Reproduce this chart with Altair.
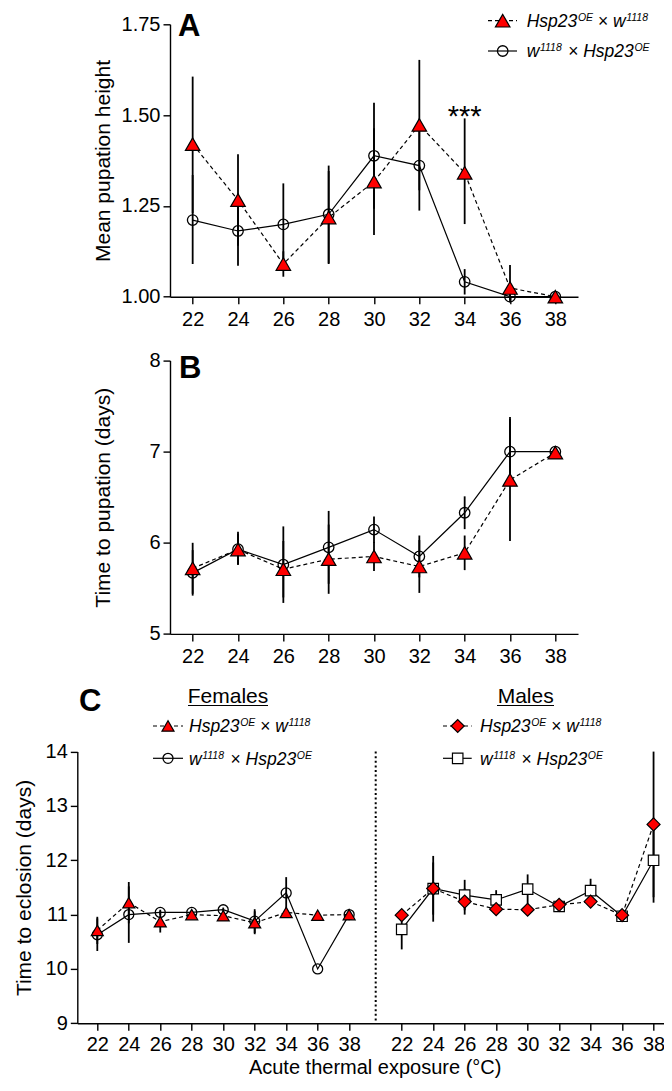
import altair as alt
import pandas as pd

temps = [22, 24, 26, 28, 30, 32, 34, 36, 38]

# ---- Panel A: mean pupation height
a_oe_mean = [1.42, 1.266, 1.09, 1.218, 1.317, 1.473, 1.341, 1.024, 1.0]
a_oe_lo = [1.23, 1.14, 1.055, 1.09, 1.17, 1.293, 1.20, 0.985, 1.0]
a_oe_hi = [1.606, 1.392, 1.125, 1.346, 1.464, 1.652, 1.491, 1.087, 1.0]
a_w_mean = [1.211, 1.181, 1.199, 1.227, 1.388, 1.361, 1.041, 1.0, 1.0]
a_w_lo = [1.09, 1.085, 1.086, 1.092, 1.242, 1.237, 1.006, 0.99, 1.0]
a_w_hi = [1.335, 1.277, 1.312, 1.361, 1.534, 1.485, 1.076, 1.01, 1.0]

# ---- Panel B: time to pupation (days)
b_oe_mean = [5.72, 5.926, 5.71, 5.82, 5.85, 5.74, 5.89, 6.69, 6.99]
b_oe_lo = [5.44, 5.76, 5.40, 5.44, 5.69, 5.45, 5.70, 6.02, 6.99]
b_oe_hi = [6.00, 6.10, 6.02, 6.20, 6.01, 6.03, 6.08, 7.36, 6.99]
b_w_mean = [5.67, 5.93, 5.76, 5.95, 6.145, 5.85, 6.33, 7.0, 7.0]
b_w_lo = [5.42, 5.76, 5.34, 5.55, 6.00, 5.62, 6.15, 6.62, 7.0]
b_w_hi = [5.92, 6.12, 6.18, 6.35, 6.29, 6.08, 6.51, 7.38, 7.0]

# ---- Panel C: time to eclosion (days)
cf_oe_mean = [10.71, 11.22, 10.87, 11.0, 10.98, 10.85, 11.04, 10.99, 11.0]
cf_oe_lo = [10.46, 10.84, 10.67, 10.97, 10.95, 10.64, 11.0, 10.99, 11.0]
cf_oe_hi = [10.96, 11.60, 11.07, 11.03, 11.01, 11.06, 11.08, 10.99, 11.0]
cf_w_mean = [10.63, 11.0, 11.04, 11.04, 11.09, 10.88, 11.40, 10.0, 11.0]
cf_w_lo = [10.33, 10.48, 10.99, 11.0, 11.05, 10.66, 11.11, 10.0, 11.0]
cf_w_hi = [10.93, 11.52, 11.09, 11.08, 11.13, 11.10, 11.69, 10.0, 11.0]
cm_oe_mean = [10.99, 11.48, 11.24, 11.10, 11.09, 11.18, 11.24, 10.99, 12.66]
cm_oe_lo = [10.99, 11.0, 11.0, 11.08, 11.07, 11.12, 11.15, 10.97, 11.32]
cm_oe_hi = [10.99, 11.96, 11.48, 11.12, 11.11, 11.24, 11.33, 11.01, 14.0]
cm_w_mean = [10.73, 11.48, 11.36, 11.27, 11.47, 11.15, 11.44, 10.97, 12.0]
cm_w_lo = [10.36, 10.87, 11.08, 11.09, 11.20, 11.10, 11.22, 10.95, 11.22]
cm_w_hi = [11.10, 12.08, 11.64, 11.45, 11.74, 11.20, 11.66, 10.99, 12.78]

FONT = "Liberation Sans"
RED = "#ff0000"
MALE_SHIFT = 19.34  # horizontal offset of the male block on the shared axis
DUMMY = pd.DataFrame({"k": [0]})

ARIAL_W = {'H': 722, 's': 500, 'p': 556, '2': 556, '3': 556, 'O': 778, 'E': 667,
           '×': 584, 'w': 722, '1': 556, '8': 556}
SPACE_W = 278
MAIN_FS = 17.5
SUP_FS = 10.5
LETTER_FS = 31


def tw(s, fs):
    return sum(ARIAL_W[c] for c in s) / 1000.0 * fs


def make_df(mean, lo, hi, shift=0.0):
    return pd.DataFrame({"temp": temps, "x": [t + shift for t in temps],
                         "mean": mean, "lo": lo, "hi": hi})


def marker_kw(shape, size, fill):
    if fill is None:
        return dict(shape=shape, size=size, filled=False, color="black",
                    strokeWidth=1.3, opacity=1)
    return dict(shape=shape, size=size, filled=True, fill=fill, stroke="black",
                strokeWidth=1.2, opacity=1)


def series(df, X, Yf, dash, shape, size, fill):
    base = alt.Chart(df)
    err = base.mark_rule(color="black", strokeWidth=1.8).encode(
        x=X, y=Yf("lo"), y2="hi:Q")
    lkw = dict(color="black", strokeWidth=1.2)
    if dash:
        lkw["strokeDash"] = dash
    line = base.mark_line(**lkw).encode(x=X, y=Yf("mean"))
    pts = base.mark_point(**marker_kw(shape, size, fill)).encode(x=X, y=Yf("mean"))
    return err, line, pts


def text_at(txt, x, y, fs, italic=False, bold=False, align="left"):
    kw = dict(text=txt, font=FONT, fontSize=fs, align=align, baseline="alphabetic",
              color="black")
    if italic:
        kw["fontStyle"] = "italic"
    if bold:
        kw["fontWeight"] = "bold"
    return alt.Chart(DUMMY).mark_text(**kw).encode(x=alt.value(x), y=alt.value(y))


def genotype_label(first_oe, x0, yc):
    base_y = yc + 6.3
    sup_y = base_y - 6.0
    if first_oe:
        segs = [("Hsp23", "m", True), ("OE", "s", True), ("×", "x", False),
                ("w", "m", True), ("1118", "s", True)]
    else:
        segs = [("w", "m", True), ("1118", "s", True), ("×", "x", False),
                ("Hsp23", "m", True), ("OE", "s", True)]
    layers = []
    x = x0
    for txt, kind, ital in segs:
        if kind == "x":
            x += SPACE_W / 1000.0 * MAIN_FS
            layers.append(text_at(txt, x, base_y, MAIN_FS))
            x += tw(txt, MAIN_FS) + SPACE_W / 1000.0 * MAIN_FS
        elif kind == "m":
            layers.append(text_at(txt, x, base_y, MAIN_FS, italic=ital))
            x += tw(txt, MAIN_FS) + 0.6
        else:
            layers.append(text_at(txt, x, sup_y, SUP_FS, italic=ital))
            x += tw(txt, SUP_FS)
    return layers


def legend_row(x0, x1, xm, xt, yc, dash, shape, size, fill, first_oe):
    rkw = dict(color="black", strokeWidth=1.2)
    if dash:
        rkw["strokeDash"] = dash
    rule = alt.Chart(DUMMY).mark_rule(**rkw).encode(
        x=alt.value(x0), x2=alt.value(x1), y=alt.value(yc))
    pt = alt.Chart(DUMMY).mark_point(**marker_kw(shape, size, fill)).encode(
        x=alt.value(xm), y=alt.value(yc))
    return [rule, pt] + genotype_label(first_oe, xt, yc)


DASH = [4, 3]
TRI_AB, CIRC_AB = 210, 110

# ---------------- Panel A ----------------
xAB = alt.Scale(domain=[21, 39], range=[92.7, 500.7], nice=False, zero=False)
xaxAB = alt.Axis(values=temps, format="d", title=None, tickSize=7, labelPadding=6,
                 labelFlush=False, labelOverlap=False)
XAB = alt.X("x:Q", scale=xAB, axis=xaxAB)

yA = alt.Scale(domain=[1.0, 1.75], nice=False, zero=False)
yaxA = alt.Axis(values=[1.0, 1.25, 1.5, 1.75], format=".2f", offset=-92.7,
                title="Mean pupation height", titleX=-57, tickSize=7, labelPadding=3)
YfA = lambda f: alt.Y(f"{f}:Q", scale=yA, axis=yaxA)

aW = series(make_df(a_w_mean, a_w_lo, a_w_hi), XAB, YfA, None, "circle", CIRC_AB, None)
aO = series(make_df(a_oe_mean, a_oe_lo, a_oe_hi), XAB, YfA, DASH, "triangle-up", TRI_AB, RED)

stars = alt.Chart(DUMMY).mark_text(text="***", font=FONT, fontSize=29, align="center",
                                   baseline="alphabetic", color="black").encode(
    x=alt.X("t:Q", scale=xAB, axis=xaxAB), y=alt.Y("v:Q", scale=yA, axis=yaxA)
).transform_calculate(t="34", v="1.47")

layersA = [aW[0], aO[0], aW[1], aO[1], aW[2], aO[2], stars,
           text_at("A", 100.7, 11.7, LETTER_FS, bold=True)]
layersA += legend_row(410.7, 439.7, 425.4, 449.4, -3.6, DASH, "triangle-up", TRI_AB, RED, True)
layersA += legend_row(410.7, 439.7, 425.4, 449.4, 26.7, None, "circle", CIRC_AB, None, False)
chartA = alt.layer(*layersA).properties(width=500.7, height=272.4)

# ---------------- Panel B ----------------
yB = alt.Scale(domain=[5, 8], nice=False, zero=False)
yaxB = alt.Axis(values=[5, 6, 7, 8], format="d", offset=-92.7,
                title="Time to pupation (days)", titleX=-57, tickSize=7, labelPadding=3)
YfB = lambda f: alt.Y(f"{f}:Q", scale=yB, axis=yaxB)
bW = series(make_df(b_w_mean, b_w_lo, b_w_hi), XAB, YfB, None, "circle", CIRC_AB, None)
bO = series(make_df(b_oe_mean, b_oe_lo, b_oe_hi), XAB, YfB, DASH, "triangle-up", TRI_AB, RED)
layersB = [bW[0], bO[0], bW[1], bO[1], bW[2], bO[2],
           text_at("B", 101.7, 17.0, LETTER_FS, bold=True)]
chartB = alt.layer(*layersB).properties(width=500.7, height=273.3)

# ---------------- Panel C ----------------
CS = -7.0          # slight vertical tightening so the whole figure fits the page
C_W = 594.7
C_H = 332.4 + CS
PX_PER_DEG = 15.74
c_lo = 20.729
c_hi = c_lo + C_W / PX_PER_DEG
c_ticks = temps + [t + MALE_SHIFT for t in temps]
xC = alt.Scale(domain=[c_lo, c_hi], nice=False, zero=False)
xaxC = alt.Axis(values=c_ticks,
                labelExpr=f"format(datum.value > 40 ? datum.value - {MALE_SHIFT} : datum.value, '.0f')",
                title="Acute thermal exposure (°C)", titleFontSize=20, tickSize=7,
                labelPadding=4.5, titlePadding=2.8, labelFlush=False, labelOverlap=False)
XC = alt.X("x:Q", scale=xC, axis=xaxC)
yC = alt.Scale(domain=[9, 14], range=[C_H, 60.7 + CS], nice=False, zero=False)
yaxC = alt.Axis(values=[9, 10, 11, 12, 13, 14], format="d",
                title="Time to eclosion (days)", titleX=-43.3, tickSize=7, labelPadding=3)
YfC = lambda f: alt.Y(f"{f}:Q", scale=yC, axis=yaxC)

TRI_C, CIRC_C, DIA_C, SQ_C = 144, 100, 169, 110
fW = series(make_df(cf_w_mean, cf_w_lo, cf_w_hi), XC, YfC, None, "circle", CIRC_C, None)
fO = series(make_df(cf_oe_mean, cf_oe_lo, cf_oe_hi), XC, YfC, DASH, "triangle-up", TRI_C, RED)
mW = series(make_df(cm_w_mean, cm_w_lo, cm_w_hi, MALE_SHIFT), XC, YfC, None, "square", SQ_C, "white")
mO = series(make_df(cm_oe_mean, cm_oe_lo, cm_oe_hi, MALE_SHIFT), XC, YfC, DASH, "diamond", DIA_C, RED)

divider = alt.Chart(DUMMY).mark_rule(color="black", strokeWidth=2, strokeDash=[2, 2.6]).encode(
    x=alt.value(298.4), y=alt.value(60.7 + CS), y2=alt.value(C_H))

ul_f = alt.Chart(DUMMY).mark_rule(color="black", strokeWidth=1.2).encode(
    x=alt.value(110.7), x2=alt.value(190.7), y=alt.value(14.6 + CS))
ul_m = alt.Chart(DUMMY).mark_rule(color="black", strokeWidth=1.2).encode(
    x=alt.value(419.7), x2=alt.value(476.7), y=alt.value(14.6 + CS))

layersC = [divider, fW[0], fO[0], mW[0], mO[0], fW[1], fO[1], mW[1], mO[1],
           fW[2], fO[2], mW[2], mO[2],
           text_at("C", 1.7, 20.1 + CS, LETTER_FS, bold=True),
           text_at("Females", 150.7, 12.6 + CS, 21, align="center"), ul_f,
           text_at("Males", 448.4, 12.6 + CS, 21, align="center"), ul_m]
layersC += legend_row(75.7, 105.7, 90.7, 111.7, 35.1 + CS, DASH, "triangle-up", TRI_C, RED, True)
layersC += legend_row(75.7, 105.7, 90.7, 111.7, 67.4 + CS, None, "circle", CIRC_C, None, False)
layersC += legend_row(365.7, 394.4, 380.4, 402.7, 35.1 + CS, DASH, "diamond", DIA_C, RED, True)
layersC += legend_row(365.7, 394.4, 380.4, 402.7, 67.4 + CS, None, "square", SQ_C, "white", False)
chartC = alt.layer(*layersC).properties(width=C_W, height=C_H)

# Fixed-size canvas: origin of panel A at page (77.3, 24.3); figure 656 x 1070 px.
PAD_L, PAD_T = 69.3, 16.3
FIG_W, FIG_H = 656, 1070
chart = alt.vconcat(chartA, chartB, chartC, spacing=63.3, bounds="flush").properties(
    autosize=alt.AutoSizeParams(type="none"),
    padding={"left": PAD_L, "top": PAD_T, "right": FIG_W - PAD_L, "bottom": FIG_H - PAD_T}
).configure_view(stroke=None).configure_axis(
    domainColor="black", domainWidth=1.4, tickColor="black", tickWidth=1.4,
    labelColor="black", labelFont=FONT, labelFontSize=20,
    titleFont=FONT, titleFontSize=21, titleFontWeight="normal", titleColor="black",
    grid=False
)

chart.save("out.html", embed_options={"renderer": "svg", "actions": False})
